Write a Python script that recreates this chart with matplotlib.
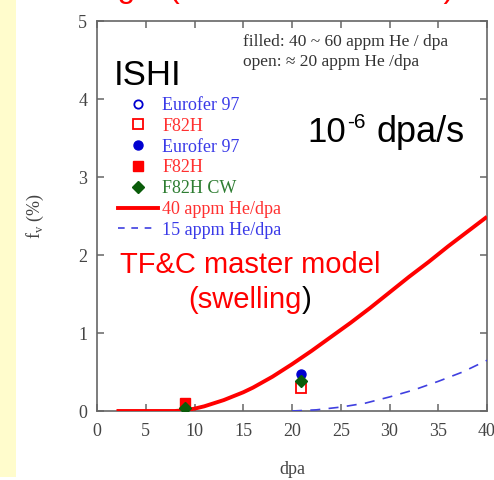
import matplotlib
matplotlib.use("Agg")
import matplotlib.pyplot as plt
from matplotlib.lines import Line2D
from matplotlib.patches import Rectangle

# ---- data -------------------------------------------------------------
# TF&C master model swelling curves (fv in %, vs dpa)
model40_dpa = [2, 8, 9, 10, 11, 12, 13, 14, 15, 16, 17, 18, 19, 20, 22, 24, 26, 28, 30, 32, 34, 36, 38, 40]
model40_fv = [0.0, 0.0, 0.01, 0.03, 0.06, 0.10, 0.14, 0.19, 0.24, 0.30, 0.37, 0.44, 0.52, 0.60,
              0.77, 0.95, 1.13, 1.32, 1.52, 1.72, 1.91, 2.11, 2.30, 2.49]
model15_dpa = [20, 22.5, 25, 27.5, 30, 32.5, 35, 37.5, 40]
model15_fv = [0.0, 0.015, 0.05, 0.10, 0.18, 0.27, 0.38, 0.50, 0.65]

# ISHI measurements
eurofer_open_dpa = [9.0]
eurofer_open_fv = [0.05]
f82h_open_dpa = [20.9]
f82h_open_fv = [0.30]
eurofer_fill_dpa = [20.9]
eurofer_fill_fv = [0.48]
f82h_fill_dpa = [9.0]
f82h_fill_fv = [0.10]
f82h_cw_dpa = [9.0, 20.9]
f82h_cw_fv = [0.04, 0.39]

x_ticks = [0, 5, 10, 15, 20, 25, 30, 35, 40]
y_ticks = [0, 1, 2, 3, 4, 5]

# ---- styling ----------------------------------------------------------
W, H = 494, 480
SERIF = ["Liberation Serif", "DejaVu Serif"]
SANS = ["Liberation Sans", "DejaVu Sans"]
BLUE, RED, GREEN = "#0000d0", "#ff0000", "#0a5c0a"
BLUE_T, RED_T, GREEN_T = "#3a3ae8", "#ff3030", "#2e7d32"
AXIS_GRAY = "#666666"
TEXT_GRAY = "#444444"


def fx(px):
    return px / W


def fy(py):
    return 1 - py / H


fig = plt.figure(figsize=(W / 100, H / 100), dpi=100)
fig.patch.set_facecolor("white")

# pale yellow strip on the left edge
fig.patches.append(Rectangle((0, fy(477)), fx(16), 477 / H, transform=fig.transFigure,
                             facecolor="#fffccc", edgecolor="none", zorder=0))

ax = fig.add_axes([fx(97), fy(411), (487 - 97) / W, (411 - 21) / H])

ax.plot(model40_dpa, model40_fv, color=RED, lw=2.8, solid_capstyle="butt", zorder=3)
ax.plot(model15_dpa, model15_fv, color="#4040e0", lw=1.2, dashes=(6, 5), zorder=3)

ax.plot(eurofer_open_dpa, eurofer_open_fv, "o", mfc="white", mec=BLUE, mew=1.3, ms=6, ls="none", zorder=4)
ax.plot(f82h_open_dpa, f82h_open_fv, "s", mfc="white", mec=RED, mew=1.3, ms=6.5, ls="none", zorder=4)
ax.plot(eurofer_fill_dpa, eurofer_fill_fv, "o", color=BLUE, ms=6.5, ls="none", zorder=5)
ax.plot(f82h_fill_dpa, f82h_fill_fv, "s", color=RED, ms=6.5, ls="none", zorder=5)
ax.plot(f82h_cw_dpa, f82h_cw_fv, "D", color=GREEN, ms=6, ls="none", zorder=6)

ax.set_xlim(0, 40)
ax.set_ylim(0, 5)
ax.set_xticks(x_ticks)
ax.set_yticks(y_ticks)
for s in ax.spines.values():
    s.set_color(AXIS_GRAY)
    s.set_linewidth(1.2)
ax.tick_params(direction="in", length=5, width=1.1, color=AXIS_GRAY, top=True, right=True,
               labelsize=13, labelcolor=TEXT_GRAY)
ax.tick_params(axis="x", pad=9)
ax.tick_params(axis="y", pad=7)
for lab in ax.get_xticklabels() + ax.get_yticklabels():
    lab.set_family(SERIF)

ax.set_xlabel("dpa", fontsize=13, family=SERIF, color=TEXT_GRAY)
ax.xaxis.set_label_coords(0.5, -(461 - 411) / (411 - 21))
ax.set_ylabel(r"f$_\mathregular{v}$ (%)", fontsize=13, family=SERIF, color=TEXT_GRAY)
ax.yaxis.set_label_coords(-(97 - 46) / (487 - 97), 0.5)

# legend
handles = [
    Line2D([], [], marker="o", ls="none", mfc="white", mec=BLUE, mew=1.3, ms=6),
    Line2D([], [], marker="s", ls="none", mfc="white", mec=RED, mew=1.3, ms=6.5),
    Line2D([], [], marker="o", ls="none", color=BLUE, ms=6.5),
    Line2D([], [], marker="s", ls="none", color=RED, ms=6.5),
    Line2D([], [], marker="D", ls="none", color=GREEN, ms=6),
    Line2D([], [], color=RED, lw=2.8),
    Line2D([], [], color="#4040e0", lw=1.2, dashes=(4, 4)),
]
labels = ["Eurofer 97", "F82H", "Eurofer 97", "F82H", "F82H CW",
          "40 appm He/dpa", "15 appm He/dpa"]
leg = ax.legend(handles, labels, loc="upper left", bbox_to_anchor=(fx(118), fy(97)),
                bbox_transform=fig.transFigure, frameon=False, borderpad=0, borderaxespad=0,
                handlelength=2.2, handletextpad=0.25, labelspacing=0.21,
                prop={"family": SERIF, "size": 13})
for txt, c in zip(leg.get_texts(), [BLUE_T, RED_T, BLUE_T, RED_T, GREEN_T, RED_T, BLUE_T]):
    txt.set_color(c)

# annotations
fig.text(fx(243), fy(42), "filled: 40 ~ 60 appm He / dpa", family=SERIF, fontsize=12.5,
         color="#333333", va="center", ha="left")
fig.text(fx(243), fy(62), "open: \u2248 20 appm He /dpa", family=SERIF, fontsize=12.5,
         color="#333333", va="center", ha="left")
fig.text(fx(114), fy(85), "ISHI", family=SANS, fontsize=25, color="black", va="baseline")

# dose-rate label: "10", raised "-6", then "dpa/s"
renderer = fig.canvas.get_renderer()
t10 = fig.text(fx(307), fy(142), "10", family=SANS, fontsize=25, color="black", va="baseline")
x_after = t10.get_window_extent(renderer).x1
fig.text(x_after / fig.bbox.width + fx(1), fy(128), "-6", family=SANS, fontsize=15,
         color="black", va="baseline")
fig.text(fx(376), fy(142), "dpa/s", family=SANS, fontsize=26, color="black", va="baseline")

fig.text(fx(250), fy(265), "TF&C master model", family=SANS, fontsize=21, color=RED,
         ha="center", va="center")
sw = fig.text(fx(188), fy(300), "(swelling", family=SANS, fontsize=21, color=RED,
              ha="left", va="center")
bb = sw.get_window_extent(renderer)
fig.text(bb.x1 / fig.bbox.width, fy(300), ")", family=SANS, fontsize=21, color="black",
         ha="left", va="center")

# slide heading running off the top edge
fig.text(fx(136), fy(-3), "Swelling", family=SANS, fontsize=23, color=RED,
         ha="right", va="baseline")
fig.text(fx(169), fy(-3), "(dual-ion irradiation)", family=SANS, fontsize=23, color=RED,
         ha="left", va="baseline")

fig.savefig("out.png", dpi=100)
